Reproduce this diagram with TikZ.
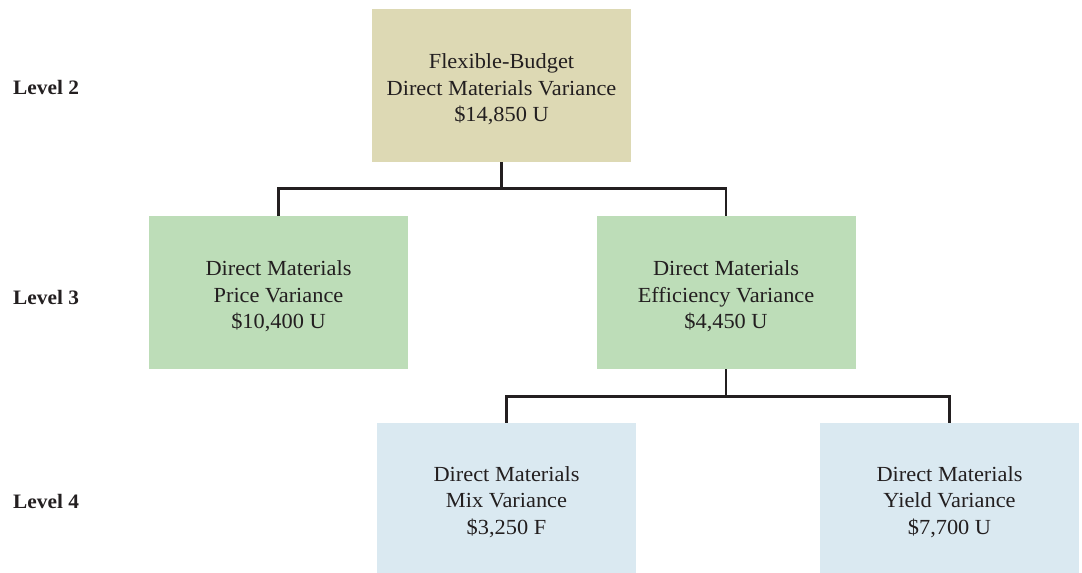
\documentclass[tikz,border=0pt]{standalone}
\usepackage{fontspec}
\setmainfont{Liberation Serif}[FakeStretch=1.04]
\definecolor{budgetTan}{HTML}{DDD9B4}
\definecolor{levelGreen}{HTML}{BDDDB8}
\definecolor{levelBlue}{HTML}{DAE9F1}
\definecolor{lineDark}{HTML}{231F20}
\begin{document}
\begin{tikzpicture}[x=1pt,y=-1pt,
	box/.style={minimum width=259pt, minimum height=153pt, inner sep=0pt},
	boxtext/.style={align=center, inner sep=0pt, yshift=-4pt,
		font=\fontsize{21.5}{26.5}\selectfont, text=lineDark},
	link/.style={draw=lineDark, line width=2.6pt}]
	
	% ---- Frame ----
	\useasboundingbox (0,0) rectangle (1082,573);
	
	% ---- Level labels ----
	\foreach \y/\name in {87/2, 297/3, 501/4}
	{
		\node[anchor=west, inner sep=0pt, font=\fontsize{20.5}{24}\selectfont\bfseries, text=lineDark] (lev\name) at (13,\y) {Level \name};
	}
	
	% ---- Boxes ----
	\node[box, fill=budgetTan, label={[boxtext]center:{Flexible-Budget\\Direct Materials Variance\\\$14,850 U}}] (flex) at (501.5,85.5) {};
	\node[box, fill=levelGreen, label={[boxtext]center:{Direct Materials\\Price Variance\\\$10,400 U}}] (price) at (278.5,292.5) {};
	\node[box, fill=levelGreen, label={[boxtext]center:{Direct Materials\\Efficiency Variance\\\$4,450 U}}] (eff) at (726,292.5) {};
	\node[box, fill=levelBlue, minimum height=150pt, label={[boxtext]center:{Direct Materials\\Mix Variance\\\$3,250 F}}] (mix) at (506.5,498) {};
	\node[box, fill=levelBlue, minimum height=150pt, label={[boxtext]center:{Direct Materials\\Yield Variance\\\$7,700 U}}] (yield) at (949.5,498) {};
	
	% ---- Connectors ----
	\draw[link] (flex.south) -- ++(0,26) coordinate (j1);
	\draw[link] (price.north) |- (j1) -| (eff.north);
	\draw[link] (eff.south) -- ++(0,27) coordinate (j2);
	\draw[link] (mix.north) |- (j2) -| (yield.north);
	
\end{tikzpicture}
\end{document}
